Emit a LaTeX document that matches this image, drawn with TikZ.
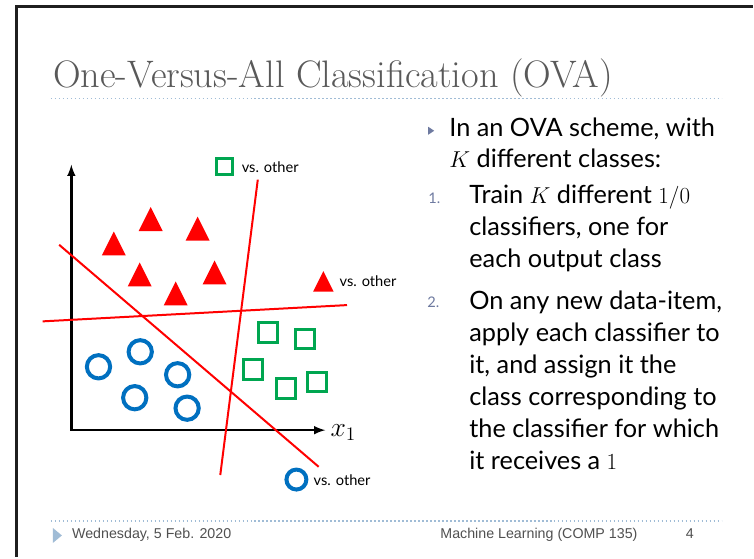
\documentclass[tikz,border=0pt]{standalone}
\usepackage{fontspec}
\newfontfamily\gillfont{Lato}
\newfontfamily\arialfont{Liberation Sans}
\usetikzlibrary{arrows,positioning}

\definecolor{ovagreen}{RGB}{0,166,80}
\definecolor{ovablue}{RGB}{0,112,192}
\definecolor{titlegray}{RGB}{89,89,89}
\definecolor{rulecol}{RGB}{160,188,214}
\definecolor{markcol}{RGB}{110,122,160}
\definecolor{footgray}{RGB}{80,80,80}

\begin{document}
\begin{tikzpicture}[
  x=0.75pt, y=-0.75pt,
  plotaxis/.style={<->, >=latex, line width=1.9pt},
  boundary/.style={draw=red, line width=1.5pt},
  greensq/.style={rectangle, draw=ovagreen, line width=2.25pt, minimum size=14.6pt, inner sep=0pt},
  bluering/.style={circle, draw=ovablue, line width=3pt, minimum size=17.5pt, inner sep=0pt},
  redtri/.pic={\fill[red] (-12,12) -- (0,-12) -- (12,12) -- cycle;},
  keytext/.style={font=\gillfont\fontsize{11}{13}\selectfont, inner sep=0pt, anchor=west},
  txt/.style={font=\gillfont\fontsize{19}{24}\selectfont, align=left, inner sep=0pt, anchor=base west},
  numtext/.style={font=\gillfont\fontsize{11}{13}\selectfont, text=markcol, inner sep=0pt, anchor=base west},
  foottext/.style={font=\arialfont\fontsize{10.7}{12}\selectfont, text=footgray, inner sep=0pt, anchor=base west},
  dotrule/.style={draw=rulecol, line width=0.8pt, dash pattern=on 1.2pt off 1.8pt}
]
\fill[white] (0,0) rectangle (754,558);
\draw[line width=2.25pt, draw=black!88] (16.5,558) -- (16.5,7) -- (754,7);

% title
\node[anchor=base west, inner sep=0pt, text=titlegray, font=\fontsize{28.8}{34}\selectfont] (title) at (53,88) {One-Versus-All Classification (OVA)};
\draw[dotrule] (51,99) -- (723,99);

% plot
\coordinate (origin) at (71.5,431);
\coordinate (ytip) at (71.5,165);
\coordinate (xtip) at (326,431);
\draw[plotaxis] (ytip) |- (xtip);
\node[anchor=base west, inner sep=0pt, font=\fontsize{20}{20}\selectfont] (xlabel) at (331,437) {$x_1$};

\pic at (114,244) {redtri};
\pic at (151,219.5) {redtri};
\pic at (198,229) {redtri};
\pic at (140,275) {redtri};
\pic at (215,273) {redtri};
\pic at (176,294) {redtri};

\node[greensq] (s1) at (268.7,333) {};
\node[greensq] (s2) at (305.7,339.5) {};
\node[greensq] (s3) at (253.5,370.3) {};
\node[greensq] (s4) at (286.3,389.2) {};
\node[greensq] (s5) at (317.7,382.5) {};

\node[bluering] (c1) at (98.7,367.5) {};
\node[bluering] (c2) at (140.5,352.5) {};
\node[bluering] (c3) at (178,375.5) {};
\node[bluering] (c4) at (135,398.5) {};
\node[bluering] (c5) at (187.5,409) {};

% separating lines
\coordinate (circA) at (59.3,245.3);
\coordinate (circB) at (319.3,467.7);
\coordinate (sqA) at (258.3,180);
\coordinate (sqB) at (220.7,476);
\coordinate (triA) at (42.7,322);
\coordinate (triB) at (347.7,305.7);
\draw[boundary] (circA) -- (circB);
\draw[boundary] (sqA) -- (sqB);
\draw[boundary] (triA) -- (triB);

% keys
\node[greensq, minimum size=12pt] (sqkey) at (224.5,166.5) {};
\node[keytext] (sqlabel) at (242,167) {vs. other};
\pic[scale=0.86] at (324,282) {redtri};
\node[keytext] (trilabel) at (340,282) {vs. other};
\node[bluering, minimum size=15pt] (ringkey) at (297,480.5) {};
\node[keytext] (ringlabel) at (314,481.5) {vs. other};

% text (base = last line)
\fill[markcol] (429,127) -- (435,131) -- (429,135) -- cycle;
\node[txt, font=\gillfont\fontsize{19}{23}\selectfont] (intro) at (450,167.7) {In an OVA scheme, with\\$K$ different classes:};
\node[numtext] (n1) at (429,204) {1.};
\node[txt] (step1) at (470,268.3) {Train $K$ different $1/0$\\classifiers, one for\\each output class};
\node[numtext] (n2) at (428,308) {2.};
\node[txt] (step2) at (470,470) {On any new data-item,\\apply each classifier to\\it, and assign it the\\class corresponding to\\the classifier for which\\it receives a $1$};

% footer
\draw[dotrule] (51,522) -- (723,522);
\fill[rulecol] (53,529) -- (62,536.5) -- (53,544) -- cycle;
\node[foottext] (date) at (72,540) {Wednesday, 5 Feb. 2020};
\node[foottext] (course) at (441,540) {Machine Learning (COMP 135)};
\node[foottext] (page) at (687,540) {4};
\end{tikzpicture}
\end{document}
